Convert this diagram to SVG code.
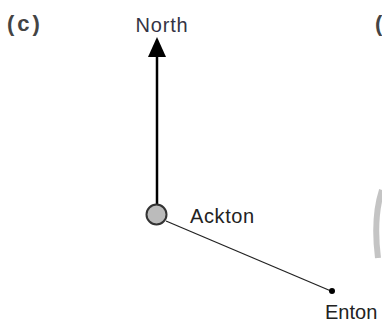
<svg xmlns="http://www.w3.org/2000/svg" width="382" height="320" viewBox="0 0 382 320">
  <style>
    .lbl { font-family: "Liberation Sans", Arial, sans-serif; font-size: 20px; fill: #222; }
    .tag { font-family: "Liberation Sans", Arial, sans-serif; font-size: 22px; font-weight: bold; fill: #444; }
  </style>
  <rect width="382" height="320" fill="#fff"/>
  <text class="tag" x="7" y="31" letter-spacing="3">(c)</text>
  <text class="tag" x="375" y="31">(</text>
  <path d="M382,190 Q373,218 378,258" fill="none" stroke="#b5b5b5" stroke-width="6" opacity="0.8"/>
  <g id="connectors">
    <line x1="157" y1="204" x2="157" y2="56" stroke="#000" stroke-width="2.5"/>
    <polygon points="157,37 148,57 166,57" fill="#000"/>
    <line x1="166" y1="221" x2="331" y2="291" stroke="#222" stroke-width="1.3"/>
  </g>
  <g id="north">
    <text class="lbl" x="162" y="32" text-anchor="middle" letter-spacing="0.8" style="fill:#334">North</text>
  </g>
  <g id="ackton">
    <circle cx="156.5" cy="214.5" r="10" fill="#bbb" stroke="#333" stroke-width="2"/>
    <text class="lbl" x="190" y="223" letter-spacing="0.6">Ackton</text>
  </g>
  <g id="enton">
    <circle cx="332" cy="291" r="3" fill="#000"/>
    <text class="lbl" x="325" y="319">Enton</text>
  </g>
</svg>
